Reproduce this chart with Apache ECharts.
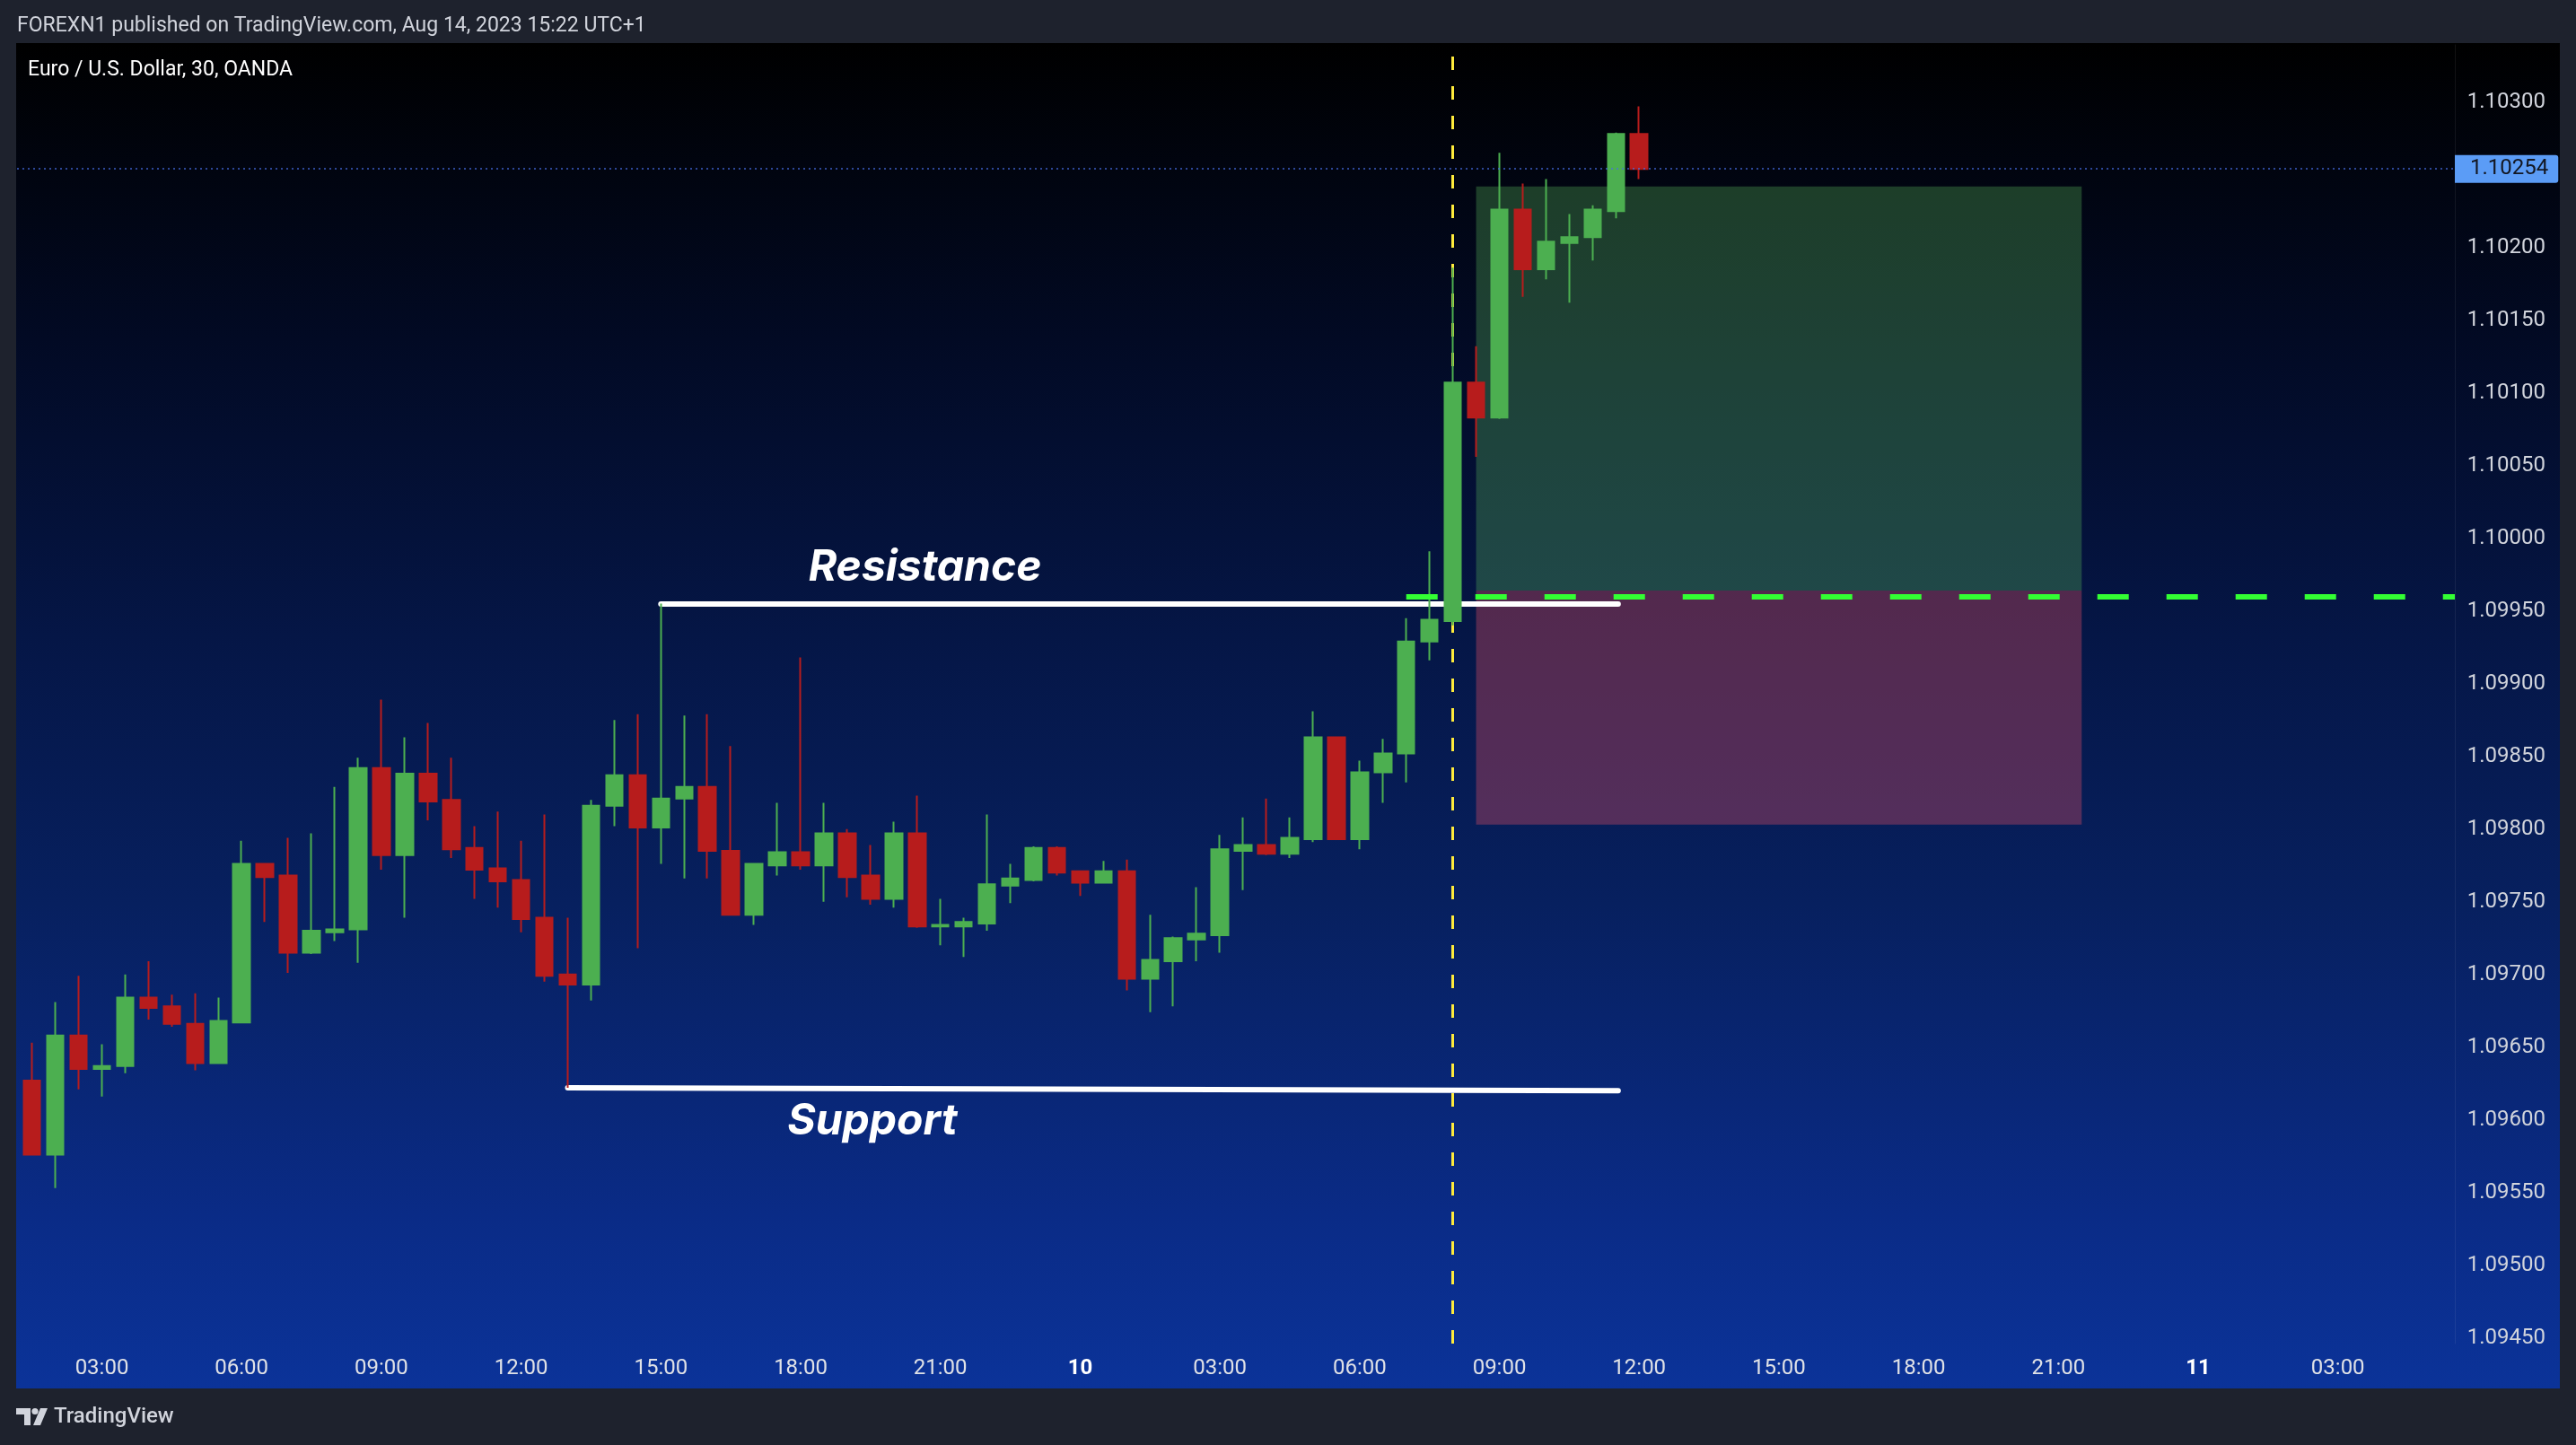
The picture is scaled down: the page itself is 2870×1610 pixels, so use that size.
<!DOCTYPE html>
<html><head><meta charset="utf-8">
<script src="https://cdn.jsdelivr.net/npm/echarts@6/dist/echarts.min.js"></script>
<style>html,body{margin:0;padding:0;background:#1e222d;}#c{width:2870px;height:1610px;}</style>
</head><body><div id="c"></div>
<script>
// EUR/USD 30-min candles, first candle = 2023-08-09 01:00 (index 0)
const open  = [1.09591,1.09627,1.09576,1.09658,1.09635,1.09637,1.09684,1.09678,1.09666,1.09639,
1.09667,1.09776,1.09768,1.09715,1.09729,1.09731,1.09842,1.09782,1.09838,1.09820,
1.09787,1.09773,1.09765,1.09739,1.09700,1.09693,1.09816,1.09837,1.09801,1.09821,
1.09829,1.09785,1.09741,1.09775,1.09784,1.09775,1.09797,1.09768,1.09752,1.09797,
1.09733,1.09733,1.09735,1.09761,1.09765,1.09787,1.09771,1.09763,1.09771,1.09697,
1.09709,1.09724,1.09727,1.09785,1.09789,1.09783,1.09793,1.09863,1.09793,1.09839,
1.09852,1.09929,1.09943,1.10107,1.10083,1.10226,1.10185,1.10203,1.10207,1.10225,1.10278];
const high  = [1.09632,1.09653,1.09681,1.09699,1.09652,1.09700,1.09709,1.09686,1.09687,1.09684,
1.09792,1.09776,1.09794,1.09797,1.09829,1.09849,1.09889,1.09863,1.09873,1.09849,
1.09802,1.09812,1.09792,1.09810,1.09739,1.09820,1.09875,1.09879,1.09955,1.09878,
1.09879,1.09857,1.09776,1.09818,1.09918,1.09818,1.09800,1.09789,1.09805,1.09823,
1.09752,1.09739,1.09810,1.09776,1.09788,1.09788,1.09771,1.09778,1.09779,1.09741,
1.09726,1.09760,1.09796,1.09808,1.09821,1.09808,1.09881,1.09863,1.09847,1.09862,
1.09945,1.09991,1.10186,1.10132,1.10265,1.10244,1.10247,1.10223,1.10229,1.10279,1.10297];
const low   = [1.09585,1.09576,1.09553,1.09621,1.09616,1.09632,1.09669,1.09664,1.09634,1.09639,
1.09667,1.09736,1.09701,1.09714,1.09723,1.09708,1.09772,1.09739,1.09806,1.09780,
1.09752,1.09746,1.09729,1.09695,1.09622,1.09682,1.09802,1.09718,1.09776,1.09766,
1.09766,1.09741,1.09734,1.09768,1.09772,1.09750,1.09753,1.09748,1.09746,1.09732,
1.09720,1.09712,1.09730,1.09749,1.09764,1.09768,1.09754,1.09763,1.09689,1.09674,
1.09678,1.09709,1.09715,1.09758,1.09782,1.09780,1.09791,1.09793,1.09786,1.09818,
1.09832,1.09916,1.09940,1.10056,1.10082,1.10166,1.10178,1.10162,1.10191,1.10220,1.10247];
const close = [1.09627,1.09576,1.09658,1.09635,1.09637,1.09684,1.09677,1.09666,1.09639,1.09668,
1.09776,1.09767,1.09715,1.09730,1.09731,1.09842,1.09782,1.09838,1.09819,1.09786,
1.09772,1.09764,1.09738,1.09699,1.09693,1.09816,1.09837,1.09801,1.09821,1.09829,
1.09785,1.09741,1.09776,1.09784,1.09775,1.09797,1.09767,1.09752,1.09797,1.09733,
1.09734,1.09736,1.09762,1.09766,1.09787,1.09770,1.09763,1.09771,1.09697,1.09710,
1.09725,1.09728,1.09786,1.09789,1.09783,1.09794,1.09863,1.09793,1.09839,1.09852,
1.09929,1.09944,1.10107,1.10083,1.10226,1.10185,1.10204,1.10207,1.10226,1.10278,1.10254];

const timeTickIndex  = [4,10,16,22,28,34,40,46,52,58,64,70,76,82,88,94,100];
const timeTickLabels = ['03:00','06:00','09:00','12:00','15:00','18:00','21:00','10','03:00','06:00','09:00','12:00','15:00','18:00','21:00','11','03:00'];
const priceTicks = [1.0945,1.0950,1.0955,1.0960,1.0965,1.0970,1.0975,1.0980,1.0985,1.0990,1.0995,1.1000,1.1005,1.1010,1.1015,1.1020,1.1025,1.1030];

// annotations
const xMin = 0.358, xMax = 105.02;
const lastPrice = 1.10254;
const resistance = [[28, 1.09955], [69.1, 1.09955]];
const support = [[24, 1.09622], [69.1, 1.09620]];
const entryLine = [[60, 1.09960], [xMax, 1.09960]];
const markerIndex = 62;
const targetBox = [[63, 1.10242], [89, 1.09964]];
const stopBox = [[63, 1.09964], [89, 1.09803]];
const resistanceLabel = [39.34, 1.09980];
const supportLabel = [37.08, 1.09599];

const candleData = open.map((o, i) => [i, o, close[i], low[i], high[i]]);

const chart = echarts.init(document.getElementById('c'), null, {width: 2870, height: 1610});
const UP = '#4CAF50', DOWN = '#B71C1C';
const FONT = 'Roboto';

const option = {
  animation: false,
  backgroundColor: '#1e222d',
  graphic: { elements: [
    { type: 'rect', z: -10, shape: {x: 18, y: 48, width: 2834, height: 1499},
      style: { fill: new echarts.graphic.LinearGradient(0, 0, 0, 1, [
        {offset: 0, color: '#000000'},
        {offset: 0.22, color: '#020a24'},
        {offset: 0.44, color: '#051646'},
        {offset: 0.64, color: '#07205f'},
        {offset: 0.87, color: '#0a2b86'},
        {offset: 1, color: '#0b3399'}
      ]) } },
    { type: 'text', z: 10, style: { text: 'FOREXN1 published on TradingView.com, Aug 14, 2023 15:22 UTC+1',
      x: 19, y: 29.5, fill: '#d1d4dc', font: '23px ' + FONT, align: 'left', verticalAlign: 'middle', textAlign: 'left', textVerticalAlign: 'middle' } },
    { type: 'text', z: 10, style: { text: 'Euro / U.S. Dollar, 30, OANDA',
      x: 31, y: 78.5, fill: '#ffffff', font: '23px ' + FONT, align: 'left', verticalAlign: 'middle', textAlign: 'left', textVerticalAlign: 'middle' } },
    { type: 'polygon', z: 10, shape: {points: [[18,1569],[34,1569],[34,1588],[27,1588],[27,1576],[18,1576]]}, style: {fill: '#d1d4dc'} },
    { type: 'circle', z: 10, shape: {cx: 39, cy: 1572.5, r: 3.6}, style: {fill: '#d1d4dc'} },
    { type: 'polygon', z: 10, shape: {points: [[45,1569],[53,1569],[45,1588],[37,1588]]}, style: {fill: '#d1d4dc'} },
    { type: 'text', z: 10, style: { text: 'TradingView', x: 60, y: 1579, fill: '#d1d4dc', font: '500 24px ' + FONT,
      align: 'left', verticalAlign: 'middle', textAlign: 'left', textVerticalAlign: 'middle' } }
  ]},
  grid: { left: 19, right: 135, top: 50, bottom: 113 },
  xAxis: {
    type: 'value', min: xMin, max: xMax,
    axisLine: {show: false}, axisTick: {show: false}, splitLine: {show: false},
    axisLabel: {
      customValues: timeTickIndex,
      formatter: v => { const t = timeTickLabels[timeTickIndex.indexOf(Math.round(v))] || ''; return t.indexOf(':') >= 0 ? t : '{d|' + t + '}'; },
      color: '#dfe1e6', fontSize: 24, fontFamily: FONT, margin: 16,
      rich: { d: { fontWeight: 'bold', fontSize: 24, color: '#ffffff', fontFamily: FONT } }
    }
  },
  yAxis: {
    type: 'value', position: 'right', min: 1.094461, max: 1.103393,
    axisLine: {show: true, lineStyle: {color: 'rgba(255,255,255,0.07)', width: 1}},
    axisTick: {show: false}, splitLine: {show: false},
    axisLabel: { customValues: priceTicks, formatter: v => v.toFixed(5), align: 'right', margin: 101,
      color: '#d1d4dc', fontSize: 24, fontFamily: FONT }
  },
  series: [
    {
      type: 'line', data: [], silent: true,
      markLine: {
        z: 1, silent: true, precision: 5, symbol: ['none', 'none'], label: {show: false}, animation: false,
        data: [
          { xAxis: markerIndex, lineStyle: {color: '#FFEB3B', width: 3, type: [15, 18]} },
          [ {coord: resistance[0], lineStyle: {color: '#ffffff', width: 6, type: 'solid', cap: 'round'}}, {coord: resistance[1]} ],
          [ {coord: support[0], lineStyle: {color: '#ffffff', width: 6, type: 'solid', cap: 'round'}}, {coord: support[1]} ]
        ]
      }
    },
    {
      type: 'candlestick', z: 2,
      dimensions: ['t', 'open', 'close', 'lowest', 'highest'],
      encode: { x: 't', y: ['open', 'close', 'lowest', 'highest'] },
      data: candleData,
      barWidth: 19,
      itemStyle: { color: UP, color0: DOWN, borderColor: UP, borderColor0: DOWN, borderWidth: 2 },
      markArea: {
        silent: true,
        data: [
          [ {coord: targetBox[0], itemStyle: {color: 'rgba(82,170,86,0.35)'}}, {coord: targetBox[1]} ],
          [ {coord: stopBox[0], itemStyle: {color: 'rgba(230,80,100,0.35)'}}, {coord: stopBox[1]} ]
        ]
      }
    },
    {
      type: 'line', data: [], silent: true,
      markLine: {
        z: 6, silent: true, precision: 5, symbol: ['none', 'none'], label: {show: false}, animation: false,
        data: [
          [ {coord: entryLine[0], lineStyle: {color: '#33FF33', width: 6, type: [35, 42]}}, {coord: entryLine[1]} ],
          [ {coord: [xMin, lastPrice], lineStyle: {color: 'rgba(70,110,230,0.85)', width: 1.5, type: [2, 4]},
              label: { show: true, position: 'end', distance: 0, formatter: lastPrice.toFixed(5),
                color: '#131722', backgroundColor: '#5B9CF6', padding: [4, 11, 3, 17], borderRadius: [0, 3, 3, 0],
                fontSize: 24, fontFamily: FONT } },
            {coord: [xMax, lastPrice]} ]
        ]
      },
      markPoint: {
        z: 7, silent: true, symbol: 'circle', symbolSize: 1, itemStyle: {color: 'rgba(0,0,0,0)'},
        data: [
          { coord: resistanceLabel, label: { show: true, position: 'inside', formatter: 'Resistance', color: '#ffffff',
            fontSize: 48, fontWeight: 'bold', fontStyle: 'italic', fontFamily: 'Inter' } },
          { coord: supportLabel, label: { show: true, position: 'inside', formatter: 'Support', color: '#ffffff',
            fontSize: 48, fontWeight: 'bold', fontStyle: 'italic', fontFamily: 'Inter' } }
        ]
      }
    }
  ]
};
chart.setOption(option);
</script>
</body></html>
